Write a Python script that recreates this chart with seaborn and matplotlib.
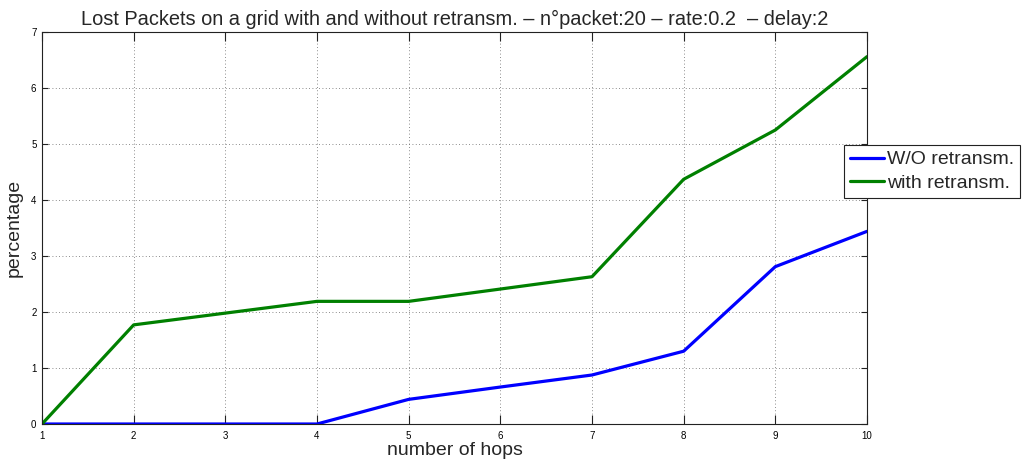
import matplotlib
matplotlib.use("Agg")
import matplotlib.pyplot as plt
import seaborn as sns
import pandas as pd
import numpy as np
from matplotlib.lines import Line2D

hops = [1, 2, 3, 4, 5, 6, 7, 8, 9, 10]
without_retx = [0.0, 0.0, 0.0, 0.0, 0.44, 0.66, 0.875, 1.30, 2.81, 3.44]
with_retx = [0.0, 1.77, 1.98, 2.19, 2.19, 2.41, 2.63, 4.37, 5.25, 6.56]
series_names = ["W/O retransm.", "with retransm."]
series_colors = ["#0000ff", "#008000"]
x_ticks = [1, 2, 3, 4, 5, 6, 7, 8, 9, 10]
y_ticks = [0, 1, 2, 3, 4, 5, 6, 7]
title = "Lost Packets on a grid with and without retransm. \u2013 n\u00b0packet:20 \u2013 rate:0.2  \u2013 delay:2"

sns.set_theme(style="white")
plt.rcParams['font.family'] = ['Liberation Sans', 'DejaVu Sans']

df = pd.DataFrame({
    "hops": hops * 2,
    "pct": without_retx + with_retx,
    "series": [series_names[0]] * len(hops) + [series_names[1]] * len(hops),
})

fig = plt.figure(figsize=(10.27, 4.61), dpi=100)
fig.patch.set_facecolor("white")
ax = fig.add_axes([42 / 1027, 1 - 424 / 461, (867 - 42) / 1027, (424 - 32) / 461])

sns.lineplot(data=df, x="hops", y="pct", hue="series", palette=series_colors,
             hue_order=series_names, linewidth=2.3, ax=ax, legend=False,
             estimator=None, sort=False)

ax.set_xlim(1, 10)
ax.set_ylim(0, 7)
ax.set_xticks(x_ticks)
ax.set_yticks(y_ticks)
ax.set_xticklabels([str(t) for t in x_ticks], fontsize=7)
ax.set_yticklabels([str(t) for t in y_ticks], fontsize=7)

ax.grid(True, linestyle=(0, (1, 3)), color="#666666", linewidth=0.6)
for s in ax.spines.values():
    s.set_visible(True)
    s.set_color("#222222")
    s.set_linewidth(0.8)

ax.tick_params(axis="x", direction="in", length=6.5, width=0.8, top=True, bottom=True,
               pad=5, colors="#222222", labelcolor="black")
ax.tick_params(axis="y", direction="in", length=4.5, width=0.8, left=True, right=True,
               pad=4, colors="#222222", labelcolor="black")

ax.set_xlabel("number of hops", fontsize=14, labelpad=1)
ax.set_ylabel("percentage", fontsize=14, labelpad=6)
ax.set_title(title, fontsize=14.4, pad=5)

handles = [Line2D([], [], color=c, linewidth=2.3) for c in series_colors]
leg = fig.legend(handles, series_names, loc="upper left",
                 bbox_to_anchor=(844 / 1027, 1 - 145 / 461),
                 fontsize=14, frameon=True, fancybox=False, shadow=False,
                 handlelength=1.75, handletextpad=0.15, borderpad=0.3,
                 labelspacing=0.3, borderaxespad=0.0)
leg.get_frame().set_edgecolor("#222222")
leg.get_frame().set_linewidth(0.8)
leg.get_frame().set_alpha(1.0)

fig.savefig("out.png", dpi=100, facecolor="white")
